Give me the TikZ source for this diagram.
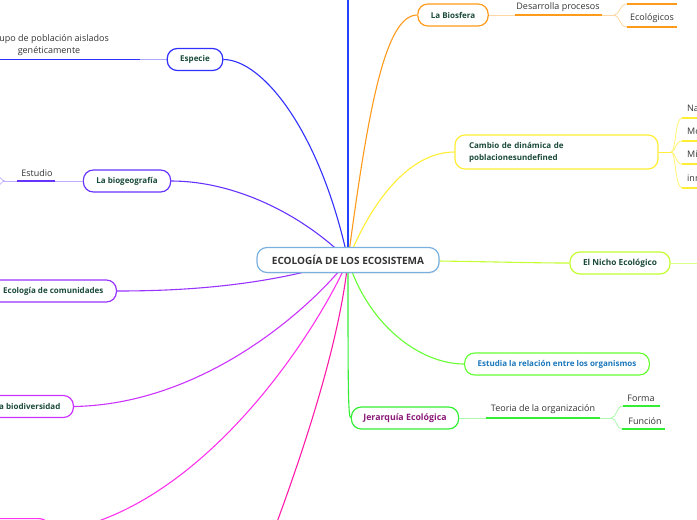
\documentclass[tikz,border=0pt]{standalone}
\usepackage{fontspec}
\setmainfont{Open Sans}
\usetikzlibrary{shadows}
\definecolor{nodegreen}{HTML}{1A4A3A}
\definecolor{subgray}{HTML}{333333}
\definecolor{ctrtext}{HTML}{333333}
\definecolor{cctr}{HTML}{7AB0E0}
\definecolor{cblue}{HTML}{3030FF}
\definecolor{ctopblue}{HTML}{2244FF}
\definecolor{cbiog}{HTML}{6633FF}
\definecolor{ccom}{HTML}{9933FF}
\definecolor{cbiod}{HTML}{CC33FF}
\definecolor{cpinkA}{HTML}{FF33EE}
\definecolor{cpinkB}{HTML}{FF1AAA}
\definecolor{corange}{HTML}{FF9A1A}
\definecolor{cyellow}{HTML}{FFEE33}
\definecolor{clime}{HTML}{C4FF33}
\definecolor{cgreenA}{HTML}{66FF33}
\definecolor{cgreenB}{HTML}{33EE33}
\definecolor{cbluetext}{HTML}{1A77BB}
\definecolor{cpurpletext}{HTML}{8B1A7A}
\pgfdeclarelayer{bg}
\pgfsetlayers{bg,main}
\begin{document}
\begin{tikzpicture}[x=1pt,y=-1pt,
  topic/.style={draw, line width=1.2pt, rounded corners=10pt, fill=white,
    minimum height=22pt, inner xsep=13pt, inner ysep=2pt,
    font=\fontsize{8}{10}\selectfont\bfseries, text=nodegreen},
  sub/.style={font=\fontsize{9}{11.5}\selectfont, text=subgray, inner sep=1pt},
  conn/.style={line width=1.1pt},
  thinl/.style={line width=0.8pt},
  uline/.style={line width=1.8pt},
]
\useasboundingbox (0,0) rectangle (697,520);
\begin{scope}
\clip (0,0) rectangle (697,520);
% ---------- topics ----------
\node[topic, draw=cctr, text=ctrtext, font=\fontsize{10}{12}\selectfont\bfseries,
  minimum height=25pt, inner xsep=15pt,
  drop shadow={opacity=0.15, shadow xshift=0.6pt, shadow yshift=-1pt}] (ctr) at (348,260) {ECOLOGÍA DE LOS ECOSISTEMA};
\node[topic, draw=cblue] (especie) at (195,59.5) {Especie};
\node[topic, draw=cbiog] (biog) at (127,181) {La biogeografía};
\node[topic, draw=ccom, anchor=east] (comun) at (117,291) {Ecología de comunidades};
\node[topic, draw=cbiod, anchor=east] (biod) at (74,406.5) {La biodiversidad};
\node[topic, draw=cpinkA, anchor=north east, minimum width=120pt, minimum height=28pt] (pinkbox) at (50,518) {};
\coordinate (pinkbend) at (262,562);
\coordinate (topblue) at (348,-40);
\node[topic, draw=corange] (biosfera) at (453,15) {La Biosfera};
\node[topic, draw=cyellow, text width=175pt, align=left, inner xsep=14pt, minimum height=34pt,
  font=\fontsize{8}{12}\selectfont\bfseries] (cambio) at (556.5,152) {Cambio de dinámica de\\poblacionesundefined};
\node[topic, draw=clime, font=\fontsize{8.3}{10}\selectfont\bfseries] (nicho) at (620,263) {El Nicho Ecológico};
\node[topic, draw=cgreenA, text=cbluetext] (estudia) at (557,364) {Estudia la relación entre los organismos};
\node[topic, draw=cgreenB, text=cpurpletext, font=\fontsize{8.8}{10}\selectfont\bfseries, inner xsep=12pt] (jer) at (405,418) {Jerarquía Ecológica};
% ---------- sub texts ----------
\node[sub, align=center] (grupo) at (49,45) {Grupo de población aislados\\genéticamente};
\node[sub] (estudio) at (37,173) {Estudio};
\node[sub] (desarrolla) at (558,7) {Desarrolla procesos};
\node[sub] (ecologicos) at (652,18) {Ecológicos};
\node[sub, anchor=west] (na) at (686,108) {Na};
\node[sub, anchor=west] (mo) at (686,131) {Mo};
\node[sub, anchor=west] (mi) at (686,154) {Mi};
\node[sub, anchor=west] (inn) at (686,178) {inn};
\node[sub] (teoria) at (543,409) {Teoria de la organización};
\node[sub] (forma) at (641,398) {Forma};
\node[sub] (funcion) at (645,421) {Función};
% ---------- coordinates for underlines ----------
\coordinate (grupoR) at (140,59.5); \coordinate (grupoL) at (-20,59.5);
\coordinate (estR) at (55,181); \coordinate (estL) at (17,181); \coordinate (estF) at (5,181);
\coordinate (estU) at (-6,174); \coordinate (estD) at (-6,188);
\coordinate (desL) at (515,15); \coordinate (desR) at (602,15); \coordinate (desF) at (614,15);
\coordinate (ecoAL) at (627,4); \coordinate (ecoAR) at (677,4);
\coordinate (ecoBL) at (627,27); \coordinate (ecoBR) at (677,27);
\coordinate (camF) at (671,152);
\coordinate (naL) at (682,118); \coordinate (naR) at (705,118);
\coordinate (moL) at (682,141); \coordinate (moR) at (705,141);
\coordinate (miL) at (682,164); \coordinate (miR) at (705,164);
\coordinate (inL) at (682,188); \coordinate (inR) at (705,188);
\coordinate (nichoR) at (705,263);
\coordinate (teoL) at (486,418); \coordinate (teoR) at (600,418); \coordinate (teoF) at (611,418);
\coordinate (foL) at (623,406); \coordinate (foR) at (660,406);
\coordinate (fuL) at (622,429); \coordinate (fuR) at (665,429);
\end{scope}
% ---------- connectors ----------
\begin{pgfonlayer}{bg}
\clip (0,0) rectangle (697,520);
\draw[conn, ctopblue] (ctr.center) -- (topblue);
\draw[conn, cblue] (ctr.center) .. controls (320,130) and (262,59.5) .. (especie.east);
\draw[conn, cbiog] (ctr.center) .. controls (300,212) and (232,181) .. (biog.east);
\draw[conn, ccom] (ctr.center) .. controls (270,285) and (190,291) .. (comun.east);
\draw[conn, cbiod] (ctr.center) .. controls (318,300) and (210,404) .. (biod.east);
\draw[conn, cpinkA] (ctr.center) .. controls (318,330) and (200,515) .. (pinkbox.east);
\draw[conn, cpinkB] (ctr.center) .. controls (340,340) and (305,450) .. (pinkbend);
\draw[conn, corange] (ctr.center) .. controls (368,110) and (385,15) .. (biosfera.west);
\draw[conn, cyellow] (ctr.center) .. controls (372,200) and (410,152) .. (cambio.west);
\draw[conn, clime] (ctr.center) .. controls (480,261) and (520,263) .. (nicho.west);
\draw[conn, cgreenA] (ctr.center) .. controls (368,325) and (420,364) .. (estudia.west);
\draw[conn, cgreenB] (ctr.center) .. controls (348,380) and (348,418) .. (jer.west);
% especie child
\draw[thinl, cblue!40] (especie.west) -- (grupoR);
\draw[uline, cblue] (grupoR) -- (grupoL);
% biogeografia child
\draw[thinl, cbiog!40] (biog.west) -- (estR);
\draw[uline, cbiog] (estR) -- (estL);
\draw[thinl, cbiog!40] (estL) -- (estF);
\draw[thinl, cbiog!40] (estF) .. controls (1,181) and (0,175) .. (estU);
\draw[thinl, cbiog!40] (estF) .. controls (1,181) and (0,187) .. (estD);
% biosfera children
\draw[thinl, corange!40] (biosfera.east) -- (desL);
\draw[uline, corange] (desL) -- (desR);
\draw[thinl, corange!40] (desR) -- (desF);
\draw[thinl, corange!40] (desF) .. controls (620,15) and (619,4) .. (ecoAL);
\draw[thinl, corange!40] (desF) .. controls (620,15) and (619,27) .. (ecoBL);
\draw[uline, corange] (ecoAL) -- (ecoAR);
\draw[uline, corange] (ecoBL) -- (ecoBR);
% cambio children
\draw[thinl, cyellow] (cambio.east) -- (camF);
\foreach \a/\b/\y in {naL/naR/118, moL/moR/141, miL/miR/164, inL/inR/188}{
  \draw[thinl, cyellow!70] (camF) .. controls (676,152) and (675,\y) .. (\a);
  \draw[uline, cyellow] (\a) -- (\b);
}
% nicho child
\draw[thinl, clime!60] (nicho.east) -- (nichoR);
% jerarquia children
\draw[thinl, cgreenB!40] (jer.east) -- (teoL);
\draw[uline, cgreenB] (teoL) -- (teoR);
\draw[thinl, cgreenB!40] (teoR) -- (teoF);
\draw[thinl, cgreenB!40] (teoF) .. controls (617,418) and (616,406) .. (foL);
\draw[thinl, cgreenB!40] (teoF) .. controls (617,418) and (616,429) .. (fuL);
\draw[uline, cgreenB] (foL) -- (foR);
\draw[uline, cgreenB] (fuL) -- (fuR);
\end{pgfonlayer}
\end{tikzpicture}
\end{document}
